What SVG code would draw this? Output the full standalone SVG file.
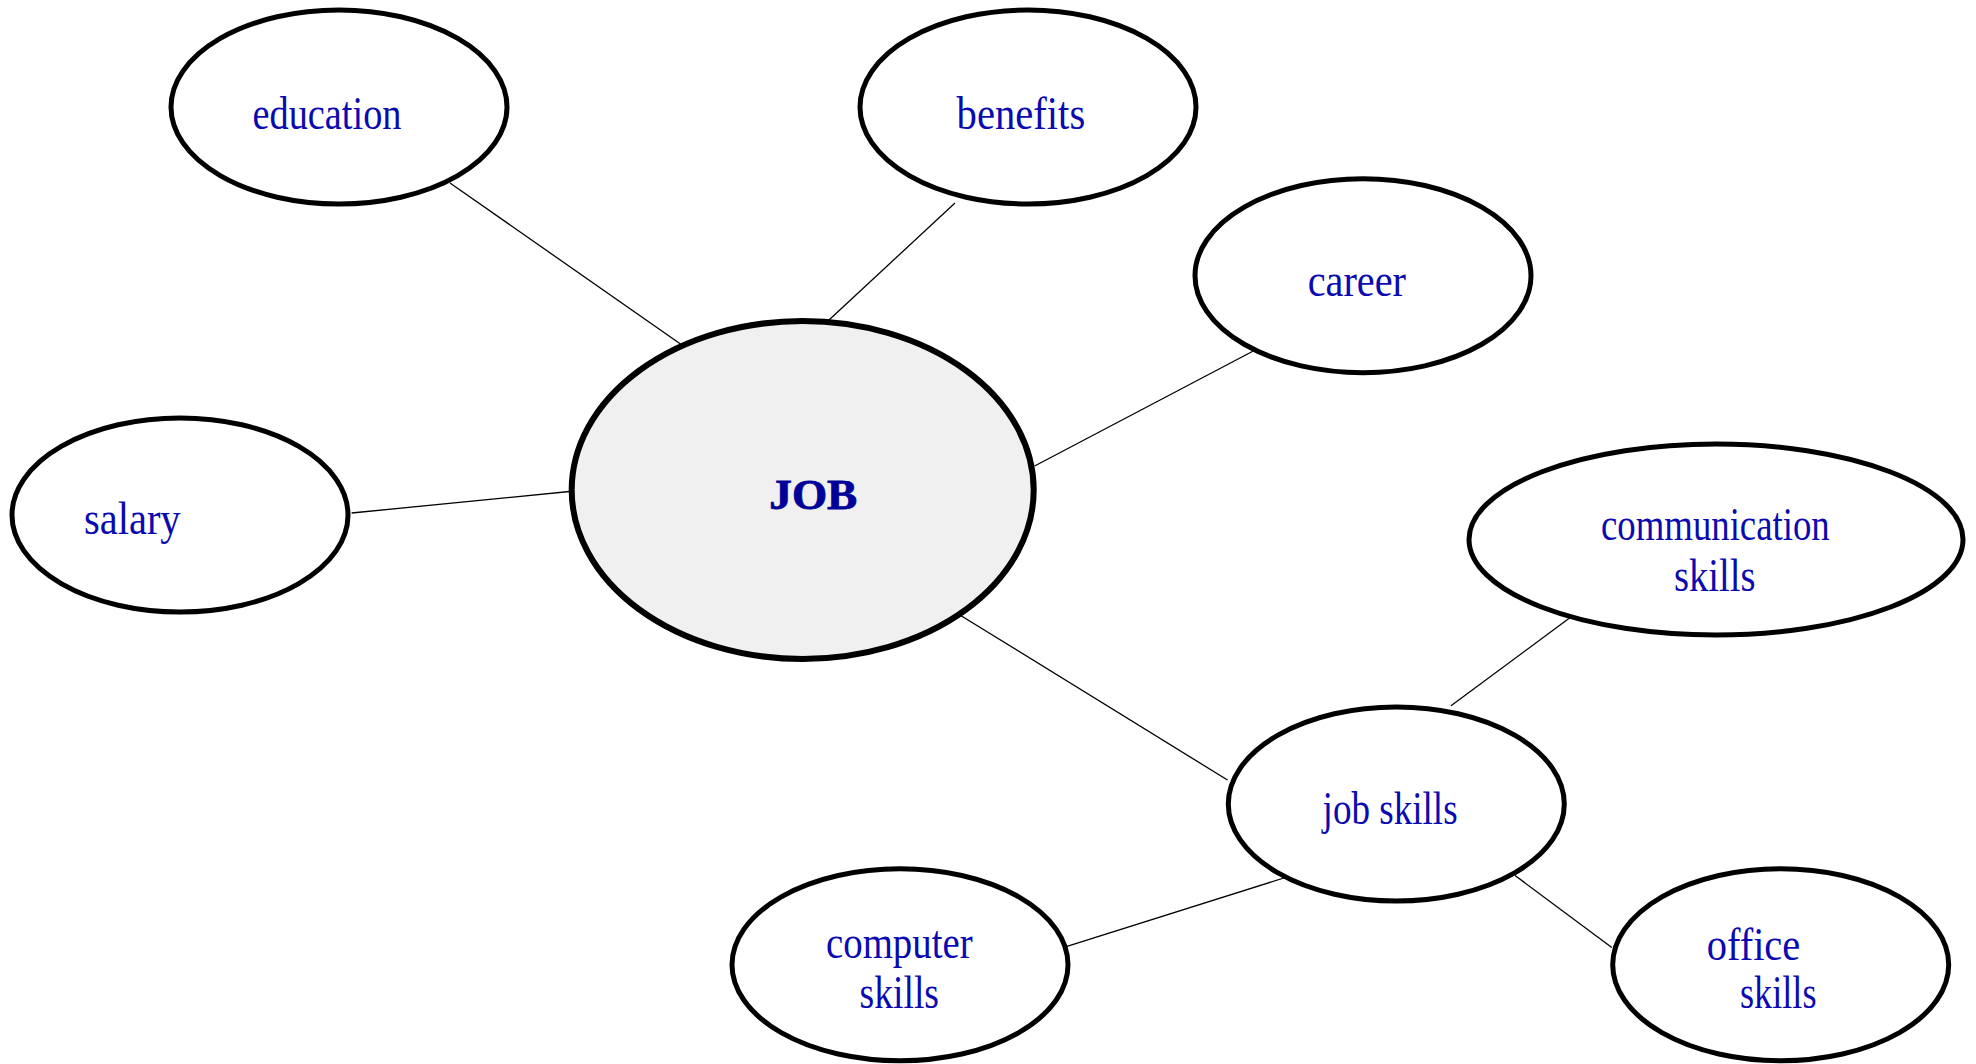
<svg xmlns="http://www.w3.org/2000/svg" width="1976" height="1064" viewBox="0 0 1976 1064">
<style>
.node{fill:#ffffff;stroke:#000000;stroke-width:5}
.hub{fill:#f0f0f0;stroke:#000000;stroke-width:6}
.lbl{font-family:"Liberation Serif","Times New Roman",serif;font-size:46px;fill:#0a0ab0}
.hubl{font-family:"Liberation Serif","Times New Roman",serif;font-size:43px;font-weight:bold;fill:#000099;stroke:#000099;stroke-width:0.8}
.conn line{stroke:#000000;stroke-width:1.3}
</style>
<rect width="1976" height="1064" fill="#ffffff"/>
<g id="connectors" class="conn">
<line x1="450" y1="183" x2="680.5" y2="344"/>
<line x1="955" y1="203" x2="829" y2="320"/>
<line x1="1259" y1="348" x2="1034.6" y2="466"/>
<line x1="351.6" y1="513" x2="569.6" y2="491.5"/>
<line x1="955" y1="612" x2="1227.5" y2="780"/>
<line x1="1451" y1="705.7" x2="1579" y2="611"/>
<line x1="1287" y1="877" x2="1067" y2="946.4"/>
<line x1="1515" y1="875.5" x2="1611.8" y2="947.5"/>
</g>
<g id="node-education">
<ellipse class="node" cx="339" cy="107" rx="168" ry="97"/>
<text class="lbl" x="252.5" y="129" textLength="149" lengthAdjust="spacingAndGlyphs">education</text>
</g>
<g id="node-benefits">
<ellipse class="node" cx="1028" cy="107" rx="168" ry="97"/>
<text class="lbl" x="956.6" y="129" textLength="128.6" lengthAdjust="spacingAndGlyphs">benefits</text>
</g>
<g id="node-career">
<ellipse class="node" cx="1363" cy="275.7" rx="168" ry="97"/>
<text class="lbl" x="1307.7" y="295.7" textLength="98.3" lengthAdjust="spacingAndGlyphs">career</text>
</g>
<g id="node-salary">
<ellipse class="node" cx="180" cy="515" rx="168" ry="97"/>
<text class="lbl" x="84" y="534" textLength="96.6" lengthAdjust="spacingAndGlyphs">salary</text>
</g>
<g id="node-job">
<ellipse class="hub" cx="802.7" cy="490" rx="231" ry="169"/>
<text class="hubl" x="769.3" y="509" textLength="88" lengthAdjust="spacingAndGlyphs">JOB</text>
</g>
<g id="node-communication-skills">
<ellipse class="node" cx="1716" cy="539.5" rx="247" ry="95.5"/>
<text class="lbl" x="1601" y="539.7" textLength="228.7" lengthAdjust="spacingAndGlyphs">communication</text>
<text class="lbl" x="1674" y="590.6" textLength="81.5" lengthAdjust="spacingAndGlyphs">skills</text>
</g>
<g id="node-job-skills">
<ellipse class="node" cx="1396.3" cy="804" rx="168" ry="97"/>
<text class="lbl" x="1322.6" y="823.5" textLength="135" lengthAdjust="spacingAndGlyphs">job skills</text>
</g>
<g id="node-computer-skills">
<ellipse class="node" cx="900" cy="964.7" rx="168" ry="96"/>
<text class="lbl" x="826" y="957.7" textLength="146.6" lengthAdjust="spacingAndGlyphs">computer</text>
<text class="lbl" x="859.5" y="1007.7" textLength="79.5" lengthAdjust="spacingAndGlyphs">skills</text>
</g>
<g id="node-office-skills">
<ellipse class="node" cx="1780.7" cy="964.7" rx="168" ry="96"/>
<text class="lbl" x="1706.7" y="960" textLength="93.6" lengthAdjust="spacingAndGlyphs">office</text>
<text class="lbl" x="1740" y="1007.7" textLength="76.5" lengthAdjust="spacingAndGlyphs">skills</text>
</g>
</svg>
